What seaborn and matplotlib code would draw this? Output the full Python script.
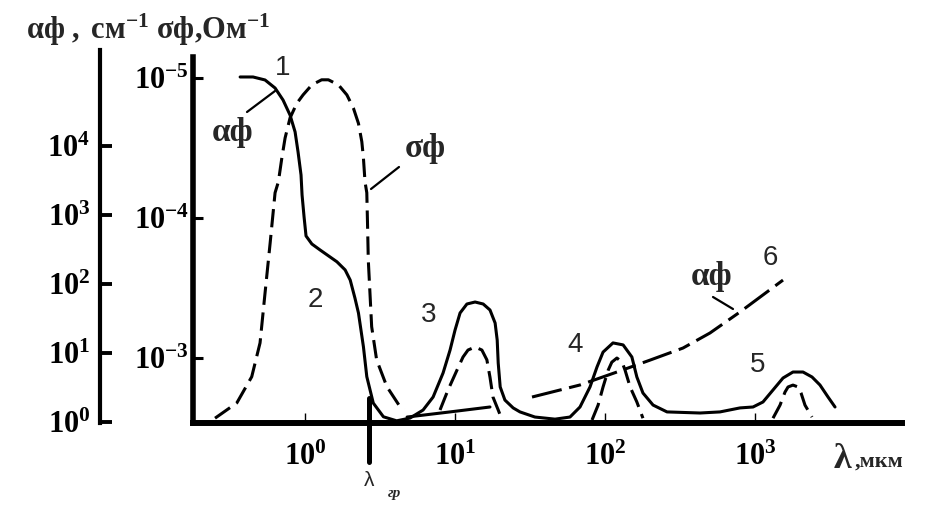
import matplotlib
matplotlib.use('Agg')
import matplotlib.pyplot as plt
import seaborn as sns
from matplotlib.lines import Line2D
from matplotlib.ticker import NullLocator

# photoconductivity spectrum: absorption alpha_f (solid) and sigma_f (dashed)
alpha_lam = [0.369, 0.45, 0.541, 0.631, 0.713, 0.794, 0.858, 0.898, 0.94, 0.955, 0.985, 1.015,
             1.11, 1.26, 1.63, 1.85, 2.0, 2.15, 2.27, 2.45, 2.58, 2.85, 3.33, 4.08,
             5.01, 6.12, 7.14, 8.32, 9.26, 10.0, 10.8, 12.0, 13.6, 15.4, 17.1, 18.5, 19.1, 19.4,
             20.0, 21.5, 24.4, 27.1, 34.1, 46.4, 58.4,
             68.1, 79.4, 88.4, 97.0, 113, 132, 151, 163, 179, 209, 259, 430, 584,
             794, 970, 1130, 1318, 1537, 1791, 2089, 2399, 2710, 3069, 3415]
alpha_val = [1.0e5, 1.0e5, 9.05e4, 6.92e4, 4.64e4, 2.81e4, 1.6e4, 8190, 3800, 1950, 935, 497,
             380, 311, 210, 160, 114, 62.7, 38, 12.3, 4.54, 1.88, 1.19, 1.04,
             1.14, 1.49, 2.30, 5.13, 11.0, 21.5, 38.0, 51.3, 54.8, 51.3, 42.0, 27.2, 15.4, 7.16,
             3.22, 2.08, 1.60, 1.40, 1.18, 1.10, 1.18,
             1.65, 3.22, 6.27, 10.3, 14.0, 13.1, 8.75, 4.49, 2.63, 1.76, 1.40, 1.35, 1.40,
             1.60, 1.65, 1.95, 2.91, 4.34, 5.3, 5.3, 4.49, 3.44, 2.30, 1.65]

# free-carrier absorption (curve 6), two pieces
free_lam_a = [4.79, 9.26, 17.1]
free_val_a = [1.18, 1.40, 1.65]
free_lam_b = [32.6, 68.1, 120, 200, 331, 501, 794, 1537]
free_val_b = [2.30, 3.44, 5.3, 7.9, 11.8, 19.5, 39.3, 114]

sigma_lam_1 = [0.251, 0.351, 0.441, 0.501, 0.541, 0.585, 0.631, 0.664, 0.7, 0.736, 0.794, 0.88,
               0.97, 1.11, 1.29, 1.43, 1.67, 1.90, 2.10, 2.27, 2.39, 2.45, 2.51, 2.58, 2.61, 2.64,
               2.78, 3.0, 3.51, 4.30, 4.64]
sigma_val_1 = [2.69e-3, 2.09e-3, 1.36e-3, 7.8e-4, 3.43e-4, 1.51e-4, 6.6e-5, 5.51e-5, 3.73e-5,
               2.68e-5, 1.93e-5, 1.52e-5, 1.32e-5, 1.12e-5, 1.03e-5, 1.03e-5, 1.12e-5, 1.32e-5,
               1.64e-5, 2.11e-5, 2.85e-5, 3.73e-5, 5.51e-5, 6.6e-5, 1.12e-4, 2.0e-4, 5.97e-4,
               1.03e-3, 1.6e-3, 2.23e-3, 2.28e-3]
sigma_lam_3 = [7.94, 8.98, 10.3, 11.3, 12.2, 13.6, 15.1, 16.3, 17.1, 17.9, 19.4, 20.6]
sigma_val_3 = [2.35e-3, 1.69e-3, 1.22e-3, 9.84e-4, 8.77e-4, 8.34e-4, 8.77e-4, 1.03e-3, 1.37e-3,
               1.90e-3, 2.35e-3, 2.77e-3]
sigma_lam_4 = [81.9, 89.9, 97.0, 105, 111, 120, 130, 136, 147, 163, 179]
sigma_val_4 = [2.77e-3, 2.17e-3, 1.61e-3, 1.22e-3, 1.07e-3, 1.0e-3, 1.07e-3, 1.22e-3, 1.61e-3,
               2.06e-3, 2.69e-3]
sigma_lam_5 = [1318, 1468, 1585, 1660, 1791, 1936, 2028, 2154, 2399]
sigma_val_5 = [2.69e-3, 2.17e-3, 1.75e-3, 1.61e-3, 1.56e-3, 1.61e-3, 1.78e-3, 2.17e-3, 2.64e-3]

lambda_gr = 2.67

x_ticks = [1, 10, 100, 1000]
x_labels = [r'$\mathbf{10^{0}}$', r'$\mathbf{10^{1}}$', r'$\mathbf{10^{2}}$', r'$\mathbf{10^{3}}$']
alpha_ticks = [1, 10, 100, 1000, 10000]
alpha_labels = [r'$\mathbf{10^{0}}$', r'$\mathbf{10^{1}}$', r'$\mathbf{10^{2}}$',
                r'$\mathbf{10^{3}}$', r'$\mathbf{10^{4}}$']
sigma_ticks = [1e-5, 1e-4, 1e-3]
sigma_labels = [r'$\mathbf{10^{-5}}$', r'$\mathbf{10^{-4}}$', r'$\mathbf{10^{-3}}$']

sns.set_style('white')
plt.rcParams['font.family'] = ['Liberation Serif', 'DejaVu Serif']
plt.rcParams['mathtext.fontset'] = 'custom'
plt.rcParams['mathtext.rm'] = 'Liberation Serif'
plt.rcParams['mathtext.bf'] = 'Liberation Serif:bold'
plt.rcParams['mathtext.it'] = 'Liberation Serif:italic'

W, H = 942, 513
fig = plt.figure(figsize=(W / 100, H / 100), dpi=100)


def fpx(x, y):
    return x / W, 1 - y / H


ax = fig.add_axes([193 / W, 1 - 423 / H, (902 - 193) / W, (423 - 50) / H])
ax2 = ax.twinx()
for a in (ax, ax2):
    a.set_facecolor('none')
    a.set_xscale('log')
    a.set_yscale('log')
    a.grid(False)

ax.set_xlim(0.179, 9550)
ax.set_ylim(10 ** -0.0145, 10 ** 5.391)
ax2.set_ylim(10 ** -2.536, 10 ** -5.2)

lw = 2.2
dash = (0, (6, 2.5))
dashdot = (0, (10, 2.5, 4, 2.5))

sns.lineplot(x=alpha_lam, y=alpha_val, ax=ax, color='black', lw=lw, sort=False, estimator=None)
sns.lineplot(x=free_lam_a, y=free_val_a, ax=ax, color='black', lw=lw, sort=False, estimator=None)
sns.lineplot(x=free_lam_b, y=free_val_b, ax=ax, color='black', lw=lw, sort=False, estimator=None,
             linestyle=dashdot)
for lam, val in [(sigma_lam_1, sigma_val_1), (sigma_lam_3, sigma_val_3),
                 (sigma_lam_4, sigma_val_4), (sigma_lam_5, sigma_val_5)]:
    sns.lineplot(x=lam, y=val, ax=ax2, color='black', lw=lw, sort=False, estimator=None,
                 linestyle=dash)

# spines
for s in ('top', 'right'):
    ax.spines[s].set_visible(False)
    ax2.spines[s].set_visible(False)
ax2.spines['bottom'].set_visible(False)
ax.spines['bottom'].set_linewidth(4.3)
ax.spines['bottom'].set_color('black')
ax.spines['left'].set_position(('outward', 67))
ax.spines['left'].set_linewidth(3.0)
ax.spines['left'].set_color('black')
ax2.spines['left'].set_visible(True)
ax2.spines['left'].set_linewidth(4.0)
ax2.spines['left'].set_color('black')
ax2.spines['left'].set_bounds(10 ** -2.536, 10 ** -5.15)
ax2.yaxis.tick_left()

for a in (ax, ax2):
    a.xaxis.set_minor_locator(NullLocator())
    a.yaxis.set_minor_locator(NullLocator())

ax.set_xticks(x_ticks)
ax.set_xticklabels(x_labels)
ax.tick_params(axis='x', direction='in', length=7, width=1, color='black', pad=14,
               labelsize=22, labelcolor='black', bottom=True)
ax.set_yticks(alpha_ticks)
ax.set_yticklabels(alpha_labels)
ax.tick_params(axis='y', direction='in', length=8.5, width=2.8, color='black', pad=7,
               labelsize=22, labelcolor='black', left=True)
ax2.set_yticks(sigma_ticks)
ax2.set_yticklabels(sigma_labels)
ax2.tick_params(axis='y', direction='in', length=7, width=2.2, color='black', pad=3,
                labelsize=22, labelcolor='black', left=True, right=False,
                labelleft=True, labelright=False)

# boundary wavelength marker
ax.axvline(lambda_gr, ymin=-0.105, ymax=0.067, color='black', lw=3.6, clip_on=False)

# texts
fig.text(*fpx(26, 30), r'$\mathbf{αф\ ,\ см^{-1}\ σф{,}Ом^{-1}}$', fontsize=22,
         ha='left', va='center')
for num, (x, y) in zip(['1', '2', '3', '4', '5', '6'],
                       [(283, 68), (315, 300), (429, 315), (575, 345), (758, 365), (770, 258)]):
    fig.text(*fpx(x, y), num, fontsize=20, family='Liberation Sans', ha='center', va='center')

fig.text(*fpx(233, 132), 'αф', fontsize=24, weight='bold', ha='center', va='center')
fig.text(*fpx(425, 148), 'σф', fontsize=24, weight='bold', ha='center', va='center')
fig.text(*fpx(712, 277), 'αф', fontsize=24, weight='bold', ha='center', va='center')
for (x0, y0), (x1, y1) in [((247, 112), (275, 91)), ((399, 167), (371, 189)),
                           ((713, 297), (733, 309))]:
    fig.add_artist(Line2D([x0 / W, x1 / W], [1 - y0 / H, 1 - y1 / H], color='black', lw=1.6))

fig.text(*fpx(369, 480), 'λ', fontsize=15, family='Liberation Sans', ha='center', va='center')
fig.text(*fpx(394, 493), 'гр', fontsize=11, style='italic', weight='bold', ha='center',
         va='center')
fig.text(*fpx(842, 460), 'λ', fontsize=26, weight='bold', ha='center', va='center')
fig.text(*fpx(855, 462), ',мкм', fontsize=16, weight='bold', ha='left', va='center')

fig.savefig('out.png', dpi=100)
